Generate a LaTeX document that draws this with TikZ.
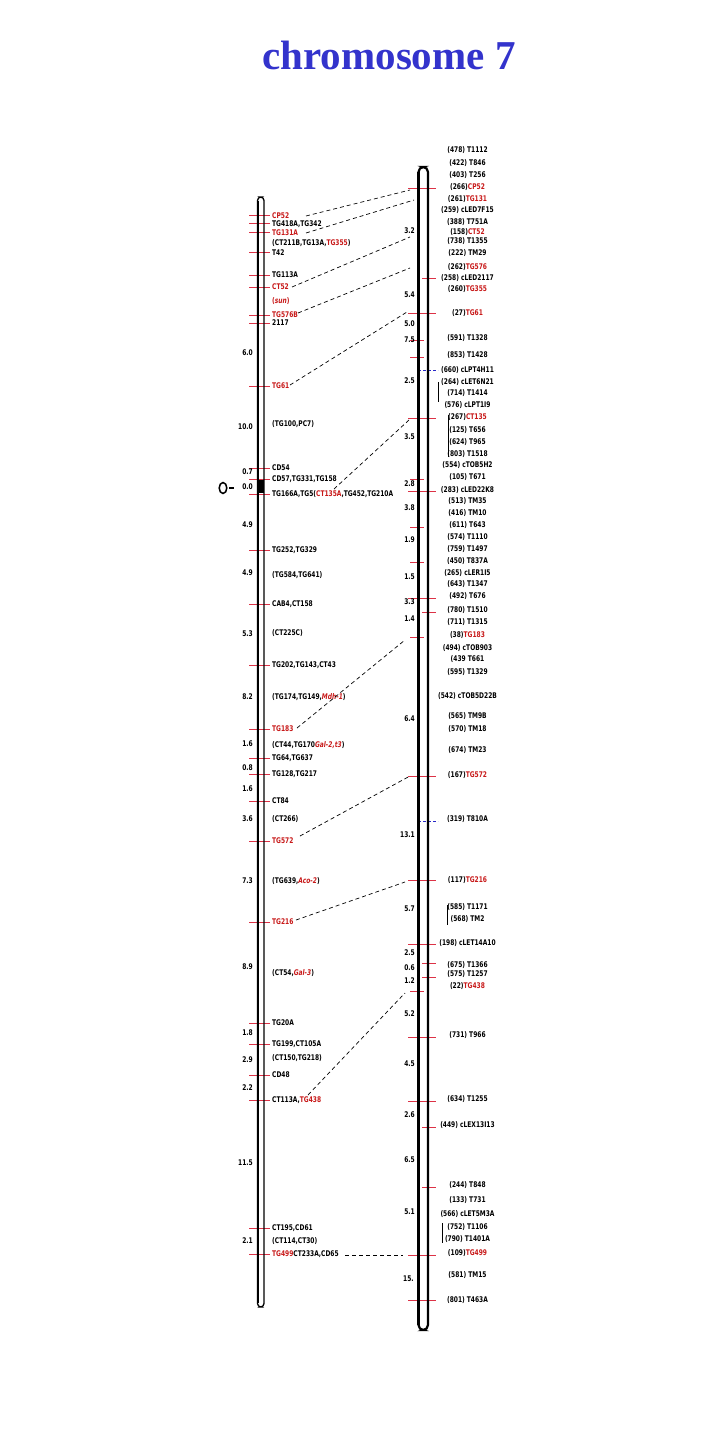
\documentclass[tikz,border=0pt]{standalone}
\usepackage{fontspec}
\setmainfont{DejaVu Sans}
\newfontfamily\labfont[FakeStretch=0.76]{DejaVu Sans Bold}
\newfontfamily\titlefont{Liberation Serif}
\definecolor{lred}{RGB}{200,25,25}
\definecolor{tred}{RGB}{220,50,70}
\definecolor{dblue}{RGB}{40,40,200}
\definecolor{titleblue}{RGB}{51,51,204}
\newcommand\rd[1]{\textcolor{lred}{#1}}
\tikzset{
  lab/.style={font=\labfont\fontsize{7.8}{9}\selectfont, inner sep=0pt},
  llab/.style={lab, anchor=mid west},
  dlab/.style={lab, anchor=mid east},
  rlab/.style={lab, anchor=mid},
  ltick/.style={draw=tred, line width=1pt},
  btick/.style={draw=dblue, line width=1pt, dash pattern=on 3pt off 2pt},
  conn/.style={draw=black, line width=0.7pt, dash pattern=on 4pt off 3pt},
  vbar/.style={draw=black, line width=0.8pt},
}
\begin{document}
\begin{tikzpicture}[x=1pt,y=-1pt]
\useasboundingbox[fill=white] (0,0) rectangle (719,1439);
\node[font=\titlefont\bfseries\fontsize{41}{45}\selectfont, text=titleblue, anchor=base, inner sep=0pt] (title) at (389,70) {chromosome 7};

% ---------- left chromosome ----------
\foreach \y in {216,224,233,253,275,287,315,323,386,468,479,494,550,604,665,729,758,774,801,841,922,1023,1044,1075,1100,1228,1254}
  \draw[ltick] (249,\y)--(270,\y);
\draw[line width=1.3pt, rounded corners=3.5pt] (257.5,197) rectangle (264,1307);
\draw[line width=2.6pt] (257.8,201)--(257.8,1303);
\fill (257,480) rectangle (264,493);
\draw[line width=1.5pt] (223,488) ellipse (3.8 and 5.5);
\draw[line width=2.5pt] (229,488)--(234,488);

\foreach \y/\t [count=\i] in {
 216/{\rd{CP52}},
 224/{TG418A,TG342},
 233/{\rd{TG131A}},
 243/{(CT211B,TG13A,\rd{TG355})},
 253/{T42},
 275/{TG113A},
 287/{\rd{CT52}},
 301/{\rd{(\textit{sun})}},
 315/{\rd{TG576B}},
 323/{2117},
 386/{\rd{TG61}},
 424/{(TG100,PC7)},
 468/{CD54},
 479/{CD57,TG331,TG158},
 494/{TG166A,TG5(\rd{CT135A},TG452,TG210A},
 550/{TG252,TG329},
 575/{(TG584,TG641)},
 604/{CAB4,CT158},
 633/{(CT225C)},
 665/{TG202,TG143,CT43},
 697/{(TG174,TG149,\rd{\textit{Mdh-1}})},
 729/{\rd{TG183}},
 745/{(CT44,TG170\rd{\textit{Gal-2,t3}})},
 758/{TG64,TG637},
 774/{TG128,TG217},
 801/{CT84},
 819/{(CT266)},
 841/{\rd{TG572}},
 881/{(TG639,\rd{\textit{Aco-2}})},
 922/{\rd{TG216}},
 973/{(CT54,\rd{\textit{Gal-3}})},
 1023/{TG20A},
 1044/{TG199,CT105A},
 1058/{(CT150,TG218)},
 1075/{CD48},
 1100/{CT113A,\rd{TG438}},
 1228/{CT195,CD61},
 1241/{(CT114,CT30)},
 1254/{\rd{TG499}CT233A,CD65}}
  \node[llab] (L\i) at (272,\y) {\t};

\foreach \y/\t [count=\i] in {353/6.0,427/10.0,472/0.7,487/0.0,525/4.9,573/4.9,634/5.3,697/8.2,744/1.6,768/0.8,789/1.6,819/3.6,881/7.3,967/8.9,1033/1.8,1060/2.9,1088/2.2,1163/11.5,1241/2.1}
  \node[dlab] (LD\i) at (253,\y) {\t};

% ---------- right chromosome ----------
\node[lab, anchor=mid west] (RD24) at (403,1279) {15.};
\foreach \y in {189,313,418,491,598,776,880,944,1037,1101,1255,1300}
  \draw[ltick] (408,\y)--(436,\y);
\foreach \y in {278,612,963,977,1127,1187}
  \draw[ltick] (422,\y)--(436,\y);
\foreach \y in {340,357,479,527,562,637,991}
  \draw[ltick] (410,\y)--(424,\y);
\foreach \y in {370,821}
  \draw[btick] (418,\y)--(438,\y);
\draw[line width=2.2pt, rounded corners=5pt] (418.5,167) rectangle (428,1330);
\draw[line width=3pt] (418.5,172)--(418.5,1325);

\draw[vbar] (438,382)--(438,402);
\draw[vbar] (448,415)--(448,457);
\draw[vbar] (447,905)--(447,925);
\draw[vbar] (442,1223)--(442,1243);

\foreach \y/\t [count=\i] in {
 150/{(478) T1112},
 163/{(422) T846},
 175/{(403) T256},
 187/{(266)\rd{CP52}},
 199/{(261)\rd{TG131}},
 210/{(259) cLED7F15},
 222/{(388) T751A},
 232/{(158)\rd{CT52}},
 241/{(738) T1355},
 253/{(222) TM29},
 267/{(262)\rd{TG576}},
 278/{(258) cLED2117},
 289/{(260)\rd{TG355}},
 313/{(27)\rd{TG61}},
 338/{(591) T1328},
 355/{(853) T1428},
 370/{(660) cLPT4H11},
 382/{(264) cLET6N21},
 393/{(714) T1414},
 405/{(576) cLPT1I9},
 417/{(267)\rd{CT135}},
 430/{(125) T656},
 442/{(624) T965},
 454/{(803) T1518},
 465/{(554) cTOB5H2},
 477/{(105) T671},
 490/{(283) cLED22K8},
 501/{(513) TM35},
 513/{(416) TM10},
 525/{(611) T643},
 537/{(574) T1110},
 549/{(759) T1497},
 561/{(450) T837A},
 573/{(265) cLER1I5},
 584/{(643) T1347},
 596/{(492) T676},
 610/{(780) T1510},
 622/{(711) T1315},
 635/{(38)\rd{TG183}},
 648/{(494) cTOB903},
 659/{(439 T661},
 672/{(595) T1329},
 696/{(542) cTOB5D22B},
 716/{(565) TM9B},
 729/{(570) TM18},
 750/{(674) TM23},
 775/{(167)\rd{TG572}},
 819/{(319) T810A},
 880/{(117)\rd{TG216}},
 907/{(585) T1171},
 919/{(568) TM2},
 943/{(198) cLET14A10},
 965/{(675) T1366},
 974/{(575) T1257},
 986/{(22)\rd{TG438}},
 1035/{(731) T966},
 1099/{(634) T1255},
 1125/{(449) cLEX13I13},
 1185/{(244) T848},
 1200/{(133) T731},
 1214/{(566) cLET5M3A},
 1227/{(752) T1106},
 1239/{(790) T1401A},
 1253/{(109)\rd{TG499}},
 1275/{(581) TM15},
 1300/{(801) T463A}}
  \node[rlab] (R\i) at (467.5,\y) {\t};

\foreach \y/\t [count=\i] in {231/3.2,295/5.4,324/5.0,340/7.5,381/2.5,437/3.5,484/2.8,508/3.8,540/1.9,577/1.5,602/3.3,619/1.4,719/6.4,835/13.1,909/5.7,953/2.5,968/0.6,981/1.2,1014/5.2,1064/4.5,1115/2.6,1160/6.5,1212/5.1}
  \node[dlab] (RD\i) at (415,\y) {\t};

% ---------- connectors ----------
\coordinate (a1) at (306,216);  \coordinate (b1) at (410,190);
\coordinate (a2) at (306,233);  \coordinate (b2) at (414,200);
\coordinate (a3) at (292,287);  \coordinate (b3) at (410,237);
\coordinate (a4) at (298,313);  \coordinate (b4) at (410,268);
\coordinate (a5) at (290,385);  \coordinate (b5) at (407,312);
\coordinate (a6) at (334,489);  \coordinate (b6) at (409,420);
\coordinate (a7) at (297,728);  \coordinate (b7) at (405,640);
\coordinate (a8) at (300,836);  \coordinate (b8) at (410,776);
\coordinate (a9) at (296,920);  \coordinate (b9) at (405,882);
\coordinate (a10) at (308,1095); \coordinate (b10) at (405,993);
\coordinate (a11) at (345,1255); \coordinate (b11) at (403,1255);
\foreach \i in {1,...,11}
  \draw[conn] (a\i)--(b\i);
\end{tikzpicture}
\end{document}
